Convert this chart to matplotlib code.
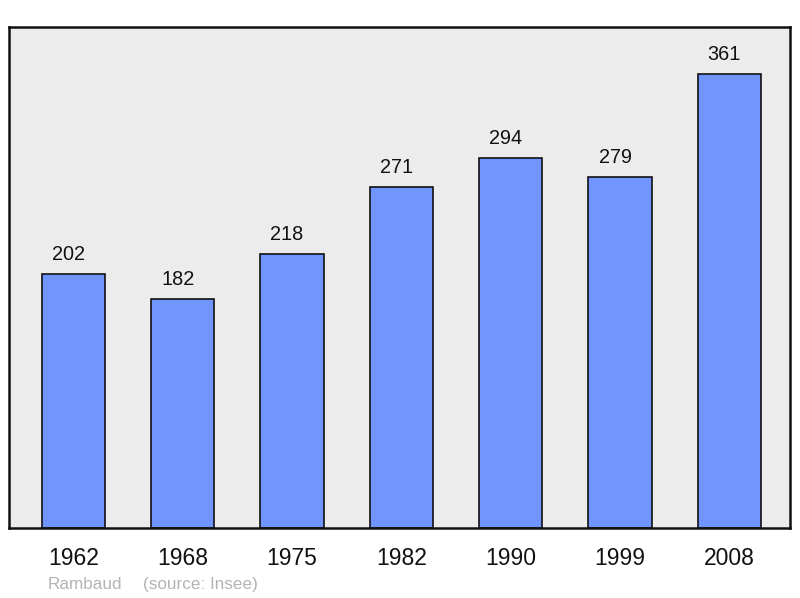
import matplotlib
matplotlib.use("Agg")
import matplotlib.pyplot as plt

years = ["1962", "1968", "1975", "1982", "1990", "1999", "2008"]
population = [202, 182, 218, 271, 294, 279, 361]

plt.rcParams['font.family'] = ['Liberation Sans', 'DejaVu Sans']

W, H = 800, 598
fig = plt.figure(figsize=(W / 100, H / 100), dpi=100)
ax = fig.add_axes([9 / W, (H - 528) / H, 781 / W, (528 - 27) / H])
ax.set_facecolor('#ececec')

x = list(range(len(years)))
bars = ax.bar(x, population, width=0.58, color='#7095ff', edgecolor='#111111', linewidth=1.2, zorder=2)
ax.set_xlim(-0.59, 6.555)
ax.set_ylim(0, 398.5)

for xi, v in zip(x, population):
    ax.annotate(str(v), (xi, v), xytext=(-3.6, 10.2), textcoords='offset points',
                ha='center', va='baseline', fontsize=14.3, color='#111111')

for s in ax.spines.values():
    s.set_linewidth(1.8)
    s.set_color('#111111')

ax.set_yticks([])
ax.set_xticks(x)
ax.set_xticklabels(years, fontsize=16.5, color='#111111')
ax.tick_params(axis='x', length=0, pad=14)

fig.text(48 / W, 1 - 589 / H, "Rambaud", fontsize=12.3, color='#b4b4b4',
         ha='left', va='baseline')
fig.text(143 / W, 1 - 589 / H, "(source: Insee)", fontsize=12.3, color='#b4b4b4',
         ha='left', va='baseline')

fig.savefig("out.png", dpi=100)
